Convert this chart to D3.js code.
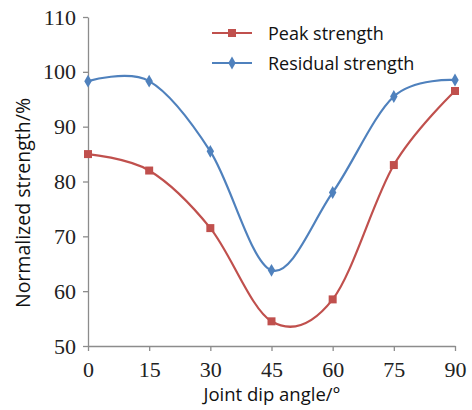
<!DOCTYPE html>
<html>
<head>
<meta charset="utf-8">
<script src="https://cdn.jsdelivr.net/npm/d3@7"></script>
<style>
  body { margin: 0; background: #fff; }
  svg { display: block; }
</style>
</head>
<body>
<script>
// data
const angles = [0, 15, 30, 45, 60, 75, 90];
const peakStrength = [85, 82, 71.5, 54.5, 58.5, 83, 96.5];
const residualStrength = [98.3, 98.3, 85.5, 63.8, 78, 95.5, 98.5];
const yTicks = [50, 60, 70, 80, 90, 100, 110];

const width = 472, height = 410;
const margin = { top: 17, right: 17, bottom: 64, left: 88 };

const svg = d3.select("body").append("svg")
    .attr("width", width)
    .attr("height", height);

const x = d3.scaleLinear()
    .domain([0, 90])
    .range([margin.left, width - margin.right]);

const y = d3.scaleLinear()
    .domain([50, 110])
    .range([height - margin.bottom, margin.top]);

const axisColor = "#8c8c8c";

// x axis
svg.append("g")
    .attr("transform", `translate(0,${y(50)})`)
    .call(d3.axisBottom(x).tickValues(angles).tickSizeInner(5).tickSizeOuter(0).tickPadding(10))
    .call(g => g.select(".domain").attr("stroke", axisColor).attr("stroke-width", 1.3))
    .call(g => g.selectAll(".tick line").attr("stroke", axisColor).attr("stroke-width", 1.3))
    .call(g => g.selectAll(".tick text")
        .attr("font-family", "Liberation Serif, serif")
        .attr("font-size", 22)
        .attr("fill", "#222"));

// y axis
svg.append("g")
    .attr("transform", `translate(${x(0)},0)`)
    .call(d3.axisLeft(y).tickValues(yTicks).tickSizeInner(5).tickSizeOuter(0).tickPadding(7))
    .call(g => g.select(".domain").attr("stroke", axisColor).attr("stroke-width", 1.3))
    .call(g => g.selectAll(".tick line").attr("stroke", axisColor).attr("stroke-width", 1.3))
    .call(g => g.selectAll(".tick text")
        .attr("font-family", "Liberation Serif, serif")
        .attr("font-size", 22)
        .attr("fill", "#222"));

// axis titles
svg.append("text")
    .attr("x", 272)
    .attr("y", 401)
    .attr("text-anchor", "middle")
    .attr("font-family", "Open Sans, sans-serif")
    .attr("font-size", 18.5)
    .attr("fill", "#111")
    .text("Joint dip angle/°");

svg.append("text")
    .attr("transform", `translate(30,203) rotate(-90)`)
    .attr("text-anchor", "middle")
    .attr("font-family", "Open Sans, sans-serif")
    .attr("font-size", 19.5)
    .attr("fill", "#111")
    .text("Normalized strength/%");

const series = [
    { name: "Peak strength", values: peakStrength, color: "#C0504D", marker: d3.symbolSquare, size: 64 },
    { name: "Residual strength", values: residualStrength, color: "#4F81BD", marker: d3.symbolDiamond, size: 48 }
];

const line = d3.line()
    .x(d => x(d[0]))
    .y(d => y(d[1]))
    .curve(d3.curveCardinal.tension(0));

series.forEach(s => {
    const pts = angles.map((a, i) => [a, s.values[i]]);
    svg.append("path")
        .datum(pts)
        .attr("fill", "none")
        .attr("stroke", s.color)
        .attr("stroke-width", 2.2)
        .attr("d", line);

    svg.append("g")
      .selectAll("path")
      .data(pts)
      .join("path")
        .attr("transform", d => `translate(${x(d[0])},${y(d[1])})`)
        .attr("d", d3.symbol(s.marker, s.size))
        .attr("fill", s.color);
});

// legend
const legend = svg.append("g");
series.forEach((s, i) => {
    const ly = 33 + i * 30;
    legend.append("line")
        .attr("x1", 212).attr("x2", 252)
        .attr("y1", ly).attr("y2", ly)
        .attr("stroke", s.color)
        .attr("stroke-width", 2.2);
    legend.append("path")
        .attr("transform", `translate(232,${ly})`)
        .attr("d", d3.symbol(s.marker, s.size))
        .attr("fill", s.color);
    legend.append("text")
        .attr("x", 268)
        .attr("y", ly + 6.5)
        .attr("font-family", "Open Sans, sans-serif")
        .attr("font-size", 18)
        .attr("fill", "#111")
        .text(s.name);
});
</script>
</body>
</html>
